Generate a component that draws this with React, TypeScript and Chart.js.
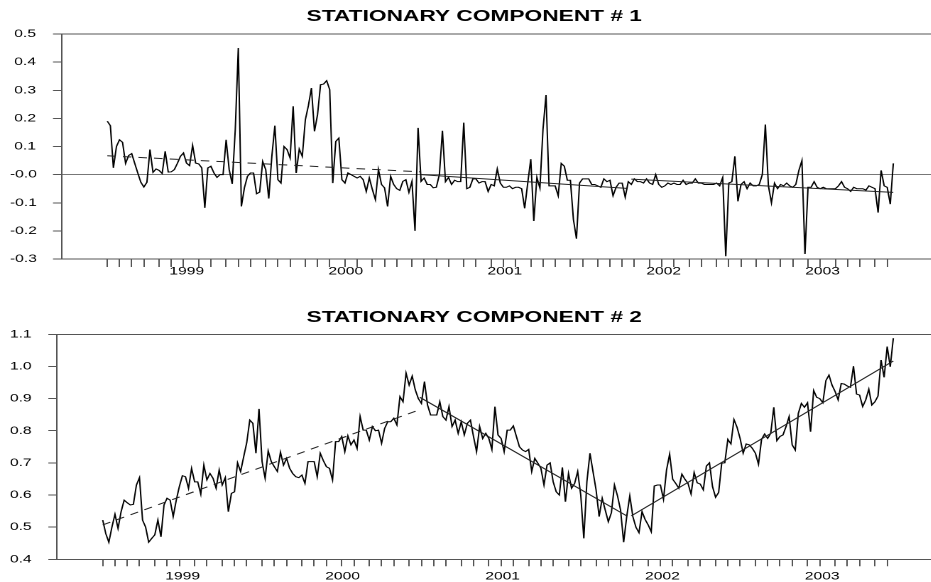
import React, { useEffect, useRef } from 'react';
import { Chart, registerables } from 'chart.js';

Chart.register(...registerables);

// ---------------- data ----------------
const yearLabels = ['1999', '2000', '2001', '2002', '2003'];
const titles = ['STATIONARY COMPONENT # 1', 'STATIONARY COMPONENT # 2'];

const topYTicks = [0.5, 0.4, 0.3, 0.2, 0.1, 0, -0.1, -0.2, -0.3];
const topYTickLabels = [' 0.5', ' 0.4', ' 0.3', ' 0.2', ' 0.1', '-0.0', '-0.1', '-0.2', '-0.3'];
const bottomYTicks = [1.1, 1.0, 0.9, 0.8, 0.7, 0.6, 0.5, 0.4];
const bottomYTickLabels = ['1.1', '1.0', '0.9', '0.8', '0.7', '0.6', '0.5', '0.4'];

// weekly observations, first week of January 1999 onward
const component1 = [
  0.19, 0.174, 0.024, 0.10, 0.124, 0.115, 0.04, 0.068, 0.075, 0.04,
  0.006, -0.027, -0.044, -0.027, 0.089, 0.008, 0.02, 0.015, 0.004, 0.083,
  0.009, 0.01, 0.018, 0.04, 0.065, 0.077, 0.041, 0.032, 0.104, 0.041,
  0.038, 0.024, -0.118, 0.024, 0.03, 0.006, -0.01, 0.0, 0.0, 0.124,
  0.018, -0.033, 0.16, 0.45, -0.113, -0.047, -0.006, 0.006, 0.006, -0.068,
  -0.062, 0.047, 0.018, -0.085, 0.065, 0.174, -0.018, -0.03, 0.1, 0.089,
  0.059, 0.243, 0.006, 0.091, 0.065, 0.195, 0.245, 0.308, 0.154, 0.213,
  0.32, 0.322, 0.334, 0.302, -0.03, 0.118, 0.13, -0.018, -0.03, 0.006,
  0.0, -0.006, -0.012, -0.006, -0.018, -0.06, -0.012, -0.053, -0.089, 0.018,
  -0.035, -0.047, -0.113, -0.006, -0.035, -0.05, -0.056, -0.024, -0.018, -0.063,
  -0.024, -0.2, 0.166, -0.024, -0.012, -0.035, -0.035, -0.047, -0.045, 0.0,
  0.156, -0.025, -0.01, -0.035, -0.02, -0.025, -0.025, 0.185, -0.05, -0.045,
  -0.015, -0.015, -0.03, -0.025, -0.025, -0.06, -0.035, -0.04, 0.02, -0.03,
  -0.045, -0.045, -0.04, -0.05, -0.045, -0.045, -0.05, -0.12, -0.03, 0.055,
  -0.165, -0.01, -0.048, 0.16, 0.283, -0.04, -0.04, -0.04, -0.075, 0.04,
  0.03, -0.02, -0.02, -0.16, -0.228, -0.03, -0.015, -0.015, -0.015, -0.035,
  -0.035, -0.04, -0.045, -0.015, -0.025, -0.02, -0.075, -0.045, -0.03, -0.03,
  -0.08, -0.025, -0.035, -0.015, -0.025, -0.025, -0.03, -0.015, -0.03, -0.035,
  0.0, -0.035, -0.045, -0.04, -0.03, -0.035, -0.03, -0.035, -0.035, -0.02,
  -0.035, -0.03, -0.03, -0.015, -0.03, -0.03, -0.035, -0.035, -0.035, -0.035,
  -0.03, -0.04, -0.01, -0.29, -0.03, -0.025, 0.065, -0.095, -0.035, -0.025,
  -0.05, -0.03, -0.04, -0.04, -0.035, 0.0, 0.178, -0.04, -0.1, -0.03,
  -0.05, -0.035, -0.04, -0.03, -0.04, -0.045, -0.035, 0.015, 0.05, -0.282,
  -0.045, -0.045, -0.025, -0.045, -0.05, -0.045, -0.05, -0.05, -0.05, -0.05,
  -0.04, -0.025, -0.045, -0.05, -0.06, -0.045, -0.05, -0.05, -0.05, -0.055,
  -0.04, -0.045, -0.05, -0.135, 0.015, -0.04, -0.045, -0.105, 0.04,
];

const component2 = [
  0.522, 0.48, 0.453, 0.50, 0.54, 0.496, 0.548, 0.584, 0.576, 0.569,
  0.571, 0.631, 0.654, 0.522, 0.50, 0.453, 0.465, 0.476, 0.522, 0.47,
  0.569, 0.59, 0.584, 0.533, 0.584, 0.626, 0.66, 0.657, 0.621, 0.683,
  0.641, 0.641, 0.603, 0.693, 0.647, 0.667, 0.652, 0.621, 0.678, 0.631,
  0.654, 0.548, 0.605, 0.61, 0.70, 0.673, 0.719, 0.763, 0.833, 0.823,
  0.73, 0.868, 0.704, 0.652, 0.737, 0.704, 0.688, 0.673, 0.733, 0.693,
  0.714, 0.683, 0.667, 0.657, 0.654, 0.662, 0.636, 0.704, 0.704, 0.704,
  0.657, 0.73, 0.707, 0.688, 0.683, 0.647, 0.766, 0.766, 0.782, 0.735,
  0.784, 0.756, 0.771, 0.745, 0.844, 0.802, 0.802, 0.771, 0.813, 0.80,
  0.802, 0.761, 0.807, 0.828, 0.828, 0.839, 0.818, 0.906, 0.89, 0.979,
  0.942, 0.97, 0.927, 0.90, 0.885, 0.953, 0.88, 0.849, 0.849, 0.849,
  0.89, 0.844, 0.833, 0.875, 0.813, 0.833, 0.792, 0.828, 0.787, 0.823,
  0.833, 0.782, 0.735, 0.813, 0.776, 0.792, 0.776, 0.742, 0.875, 0.787,
  0.776, 0.735, 0.802, 0.802, 0.815, 0.782, 0.75, 0.74, 0.735, 0.742,
  0.673, 0.714, 0.699, 0.683, 0.631, 0.693, 0.70, 0.641, 0.61, 0.60,
  0.686, 0.579, 0.667, 0.621, 0.636, 0.673, 0.60, 0.465, 0.641, 0.73,
  0.673, 0.616, 0.533, 0.59, 0.553, 0.517, 0.545, 0.631, 0.597, 0.553,
  0.453, 0.533, 0.597, 0.533, 0.50, 0.483, 0.548, 0.524, 0.507, 0.486,
  0.628, 0.631, 0.631, 0.587, 0.678, 0.727, 0.649, 0.636, 0.621, 0.665,
  0.649, 0.636, 0.603, 0.67, 0.638, 0.634, 0.616, 0.69, 0.70, 0.626,
  0.593, 0.608, 0.699, 0.70, 0.773, 0.759, 0.835, 0.811, 0.776, 0.73,
  0.759, 0.756, 0.745, 0.73, 0.696, 0.773, 0.79, 0.776, 0.792, 0.873,
  0.769, 0.782, 0.787, 0.813, 0.844, 0.756, 0.74, 0.854, 0.885, 0.873,
  0.887, 0.797, 0.925, 0.904, 0.90, 0.887, 0.956, 0.973, 0.942, 0.922,
  0.896, 0.947, 0.945, 0.939, 0.935, 1.001, 0.914, 0.911, 0.875, 0.896,
  0.929, 0.88, 0.89, 0.908, 1.02, 0.966, 1.062, 0.999, 1.088,
];

// piecewise trend segments: [startIndex, startValue, endIndex, endValue]
const trend1Dashed = [0, 0.067, 102.6, 0.010];
const trend1SolidA = [103, 0.0, 170.5, -0.049];
const trend1SolidB = [172, -0.016, 258, -0.063];
const trend2Dashed = [0, 0.507, 103, 0.864];
const trend2SolidA = [103.5, 0.904, 171, 0.535];
const trend2SolidB = [172.5, 0.535, 258, 1.017];

// ---------------- layout constants ----------------
const STRETCH = 1.42;
const CANVAS_W = 661;
const FONT = "'Liberation Sans', Arial, sans-serif";
const AXIS_COLOR = '#555';

function weekOf(year: number, month: number): number {
  return (Date.UTC(year, month, 1) - Date.UTC(1999, 0, 1)) / 86400000 / 7;
}
const monthTicks: number[] = [];
for (let y = 1999; y <= 2003; y++) {
  for (let m = 0; m < 12; m++) monthTicks.push(Math.floor(weekOf(y, m)));
}
const yearCenters = yearLabels.map((l) => {
  const y = Number(l);
  return (weekOf(y, 0) + weekOf(y + 1, 0)) / 2;
});

interface PanelCfg {
  title: string;
  data: number[];
  dashed: number[];
  solidA: number[];
  solidB: number[];
  yTicks: number[];
  yLabels: string[];
  yMin: number;
  yMax: number;
  zeroLine: boolean;
  height: number;
  areaLeft: number; // intrinsic px
  firstPx: number; // intrinsic px of index 0
  lastPx: number; // intrinsic px of last index
  xAxisHeight: number;
  xTickLen: number;
  xLabelPad: number;
  yTickLen: number;
  titlePadTop: number;
  titlePadBottom: number;
}

const PAD_LEFT = 7;

function seg(s: number[]) {
  return [
    { x: s[0], y: s[1] },
    { x: s[2], y: s[3] },
  ];
}

function Panel({ cfg }: { cfg: PanelCfg }) {
  const ref = useRef<HTMLCanvasElement>(null);
  useEffect(() => {
    if (!ref.current) return;
    const n = cfg.data.length - 1;
    const pxPer = (cfg.lastPx - cfg.firstPx) / n;
    const xMin = -(cfg.firstPx - cfg.areaLeft) / pxPer;
    const xMax = n + (CANVAS_W - cfg.lastPx) / pxPer;
    const chart = new Chart(ref.current, {
      type: 'line',
      data: {
        datasets: [
          {
            data: cfg.data.map((v, i) => ({ x: i, y: v })),
            borderColor: '#000',
            borderWidth: 1,
            pointRadius: 0,
            tension: 0,
            order: 2,
          },
          {
            data: seg(cfg.dashed),
            borderColor: '#222',
            borderWidth: 1,
            borderDash: [6, 5],
            pointRadius: 0,
            order: 1,
          },
          {
            data: seg(cfg.solidA),
            borderColor: '#222',
            borderWidth: 1,
            pointRadius: 0,
            order: 1,
          },
          {
            data: seg(cfg.solidB),
            borderColor: '#222',
            borderWidth: 1,
            pointRadius: 0,
            order: 1,
          },
        ],
      },
      options: {
        animation: false,
        responsive: false,
        devicePixelRatio: 2,
        layout: { padding: { left: PAD_LEFT, right: 0, top: 0, bottom: 0 } },
        plugins: {
          legend: { display: false },
          tooltip: { enabled: false },
          title: {
            display: true,
            text: cfg.title,
            color: '#000',
            font: { family: FONT, size: 16, weight: 'bold' },
            padding: { top: cfg.titlePadTop, bottom: cfg.titlePadBottom },
          },
        },
        scales: {
          x: {
            type: 'linear',
            min: xMin,
            max: xMax,
            afterBuildTicks: (scale: any) => {
              const all = [...monthTicks, ...yearCenters].sort((a, b) => a - b);
              scale.ticks = all.map((v) => ({ value: v }));
            },
            afterFit: (scale: any) => {
              scale.height = cfg.xAxisHeight;
            },
            ticks: {
              autoSkip: false,
              maxRotation: 0,
              minRotation: 0,
              padding: cfg.xLabelPad,
              color: '#000',
              font: { family: FONT, size: 11 },
              callback: (value: any) => {
                const k = yearCenters.indexOf(Number(value));
                return k >= 0 ? yearLabels[k] : '';
              },
            },
            grid: {
              display: true,
              drawOnChartArea: false,
              drawTicks: true,
              tickLength: cfg.xTickLen,
              tickWidth: 1,
              tickColor: (ctx: any) =>
                ctx.tick && ctx.tick.label ? 'rgba(0,0,0,0)' : AXIS_COLOR,
            },
            border: { display: true, color: AXIS_COLOR, width: 1 },
          },
          y: {
            type: 'linear',
            min: cfg.yMin,
            max: cfg.yMax,
            afterBuildTicks: (scale: any) => {
              scale.ticks = cfg.yTicks.map((v) => ({ value: v }));
            },
            afterFit: (scale: any) => {
              scale.width = cfg.areaLeft - PAD_LEFT;
            },
            ticks: {
              crossAlign: 'far',
              color: '#000',
              font: { family: FONT, size: 11 },
              callback: (value: any) => {
                const k = cfg.yTicks.findIndex((t) => Math.abs(t - Number(value)) < 1e-9);
                return k >= 0 ? cfg.yLabels[k] : '';
              },
            },
            grid: {
              display: true,
              drawOnChartArea: true,
              drawTicks: true,
              tickLength: cfg.yTickLen,
              tickColor: AXIS_COLOR,
              color: (ctx: any) => {
                const v = ctx.tick ? ctx.tick.value : NaN;
                if (Math.abs(v - cfg.yMax) < 1e-9) return AXIS_COLOR;
                if (cfg.zeroLine && Math.abs(v) < 1e-9) return '#777';
                return 'rgba(0,0,0,0)';
              },
            },
            border: { display: true, color: AXIS_COLOR, width: 1 },
          },
        },
      },
    } as any);
    return () => chart.destroy();
  }, [cfg]);
  return <canvas ref={ref} width={CANVAS_W} height={cfg.height} style={{ display: 'block' }} />;
}

const topCfg: PanelCfg = {
  title: titles[0],
  data: component1,
  dashed: trend1Dashed,
  solidA: trend1SolidA,
  solidB: trend1SolidB,
  yTicks: topYTicks,
  yLabels: topYTickLabels,
  yMin: -0.3,
  yMax: 0.5,
  zeroLine: true,
  height: 291,
  areaLeft: 62 / STRETCH,
  firstPx: 107.3 / STRETCH,
  lastPx: 893.3 / STRETCH,
  xAxisHeight: 32,
  xTickLen: 8,
  xLabelPad: -2,
  yTickLen: 9 / STRETCH,
  titlePadTop: 7,
  titlePadBottom: 7.8,
};

const bottomCfg: PanelCfg = {
  title: titles[1],
  data: component2,
  dashed: trend2Dashed,
  solidA: trend2SolidA,
  solidB: trend2SolidB,
  yTicks: bottomYTicks,
  yLabels: bottomYTickLabels,
  yMin: 0.4,
  yMax: 1.1,
  zeroLine: false,
  height: 282,
  areaLeft: 56.7 / STRETCH,
  firstPx: 102.7 / STRETCH,
  lastPx: 893.3 / STRETCH,
  xAxisHeight: 22.7,
  xTickLen: 7,
  xLabelPad: 3.8,
  yTickLen: 8.4 / STRETCH,
  titlePadTop: 7.9,
  titlePadBottom: 7.2,
};

export default function App() {
  const stretched = (top: number, h: number): React.CSSProperties => ({
    position: 'absolute',
    left: 0,
    top,
    width: CANVAS_W,
    height: h,
    transform: `scaleX(${STRETCH})`,
    transformOrigin: '0 0',
  });
  return (
    <div
      style={{
        position: 'absolute',
        left: 0,
        top: 0,
        width: 931,
        height: 582,
        overflow: 'hidden',
        background: '#fff',
      }}
    >
      <div style={stretched(0, topCfg.height)}>
        <Panel cfg={topCfg} />
      </div>
      <div style={stretched(300, bottomCfg.height)}>
        <Panel cfg={bottomCfg} />
      </div>
    </div>
  );
}
